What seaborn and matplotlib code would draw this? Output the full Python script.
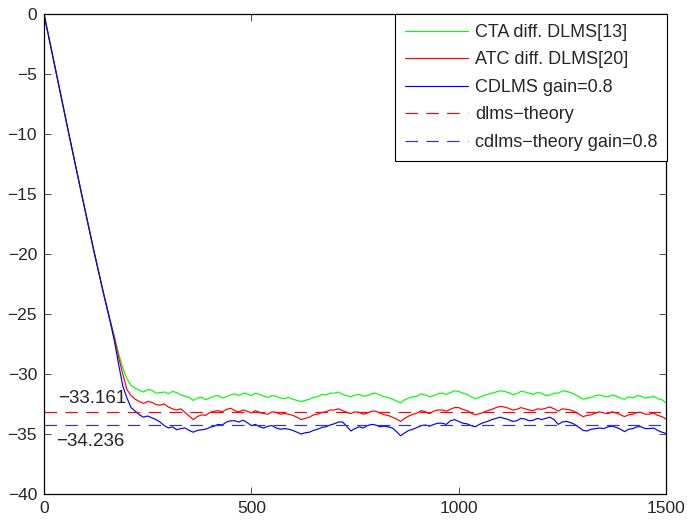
import numpy as np
import pandas as pd
import matplotlib
matplotlib.use("Agg")
import matplotlib.pyplot as plt
from matplotlib.lines import Line2D
import seaborn as sns

# Iteration grid shared by the three learning curves
iterations = [0, 30, 60, 90, 120, 145, 160, 170, 180, 190, 200, 210, 220, 230] + list(range(240, 1501, 10))

# Network MSD in dB
cta_msd = [0, -5.0, -10.0, -14.9, -19.7, -23.5, -25.6, -26.9, -28.3, -29.5, -30.4, -30.95, -31.2, -31.35,
           -31.5, -31.3, -31.35, -31.6, -31.55, -31.5, -31.65, -31.45, -31.55, -31.75,
           -31.85, -31.95, -32.2, -32.0, -31.95, -32.15, -32.0, -31.85, -31.8, -32.0,
           -31.9, -31.75, -31.65, -31.8, -31.6, -31.65, -31.8, -31.6, -31.7, -31.85,
           -31.95, -31.8, -31.85, -32.0, -32.05, -31.95, -32.1, -32.2, -32.3, -32.2,
           -32.1, -31.95, -31.9, -31.7, -31.75, -31.6, -31.6, -31.5, -31.7, -31.8,
           -31.9, -31.75, -31.7, -31.85, -31.8, -31.65, -31.6, -31.75, -31.9, -31.95,
           -32.1, -32.25, -32.4, -32.15, -32.0, -31.9, -31.85, -31.65, -31.75, -31.9,
           -31.8, -31.65, -31.6, -31.7, -31.55, -31.4, -31.45, -31.6, -31.7, -31.9,
           -32.05, -31.95, -31.8, -31.7, -31.6, -31.5, -31.4, -31.45, -31.55, -31.7,
           -31.65, -31.45, -31.5, -31.6, -31.7, -31.55, -31.6, -31.8, -31.75, -31.6,
           -31.6, -31.4, -31.45, -31.55, -31.7, -31.9, -32.1, -32.0, -31.95, -31.8,
           -31.75, -31.85, -31.9, -31.75, -31.85, -32.0, -32.1, -31.9, -32.0, -31.8,
           -31.85, -32.0, -31.95, -31.85, -32.05, -32.15, -32.4]

atc_msd = [0, -5.0, -10.0, -14.9, -19.7, -23.5, -25.6, -27.0, -28.6, -30.0, -31.3, -31.8, -32.1, -32.3,
           -32.45, -32.3, -32.35, -32.55, -32.6, -32.5, -32.75, -32.9, -33.0, -32.9,
           -33.2, -33.5, -33.8, -33.55, -33.4, -33.45, -33.2, -33.1, -33.05, -33.15,
           -32.95, -32.85, -33.05, -33.15, -33.0, -33.1, -33.25, -33.05, -33.2, -33.3,
           -33.35, -33.15, -33.2, -33.35, -33.3, -33.35, -33.45, -33.6, -33.8, -33.7,
           -33.6, -33.4, -33.35, -33.2, -33.15, -33.0, -33.0, -32.9, -33.05, -33.2,
           -33.3, -33.15, -33.2, -33.35, -33.25, -33.1, -33.1, -33.25, -33.4, -33.45,
           -33.6, -33.75, -33.95, -33.7, -33.5, -33.35, -33.25, -33.05, -33.15, -33.3,
           -33.1, -33.0, -33.0, -33.1, -32.95, -32.8, -32.8, -32.95, -33.05, -33.25,
           -33.4, -33.3, -33.2, -33.05, -32.95, -32.8, -32.7, -32.75, -32.85, -33.0,
           -32.95, -32.8, -32.9, -33.0, -33.05, -32.9, -32.95, -32.85, -32.75, -32.9,
           -33.1, -32.9, -32.95, -33.0, -33.15, -33.35, -33.55, -33.45, -33.4, -33.25,
           -33.15, -33.25, -33.3, -33.15, -33.25, -33.4, -33.55, -33.4, -33.35, -33.2,
           -33.2, -33.35, -33.35, -33.25, -33.45, -33.55, -33.75]

cdlms_msd = [0, -5.0, -10.0, -14.9, -19.7, -23.5, -25.7, -27.3, -29.2, -31.0, -32.0, -32.8, -33.1, -33.4,
             -33.6, -33.5, -33.65, -33.8, -34.0, -34.3, -34.5, -34.4, -34.65, -34.55,
             -34.5, -34.7, -34.85, -34.7, -34.65, -34.6, -34.45, -34.35, -34.2, -34.25,
             -34.0, -33.9, -33.9, -34.0, -33.85, -34.05, -34.3, -34.2, -34.4, -34.5,
             -34.35, -34.3, -34.5, -34.6, -34.55, -34.6, -34.7, -34.85, -35.0, -34.9,
             -34.85, -34.7, -34.6, -34.45, -34.4, -34.25, -34.15, -34.0, -34.0, -34.35,
             -34.75, -34.55, -34.4, -34.5, -34.3, -34.2, -34.25, -34.4, -34.35, -34.4,
             -34.5, -34.8, -35.15, -34.9, -34.7, -34.6, -34.45, -34.3, -34.25, -34.35,
             -34.2, -34.1, -34.1, -34.2, -33.9, -33.8, -33.95, -34.1, -34.15, -34.3,
             -34.4, -34.2, -34.05, -33.95, -33.8, -33.7, -33.6, -33.7, -33.8, -33.95,
             -33.9, -33.7, -33.75, -33.9, -33.85, -33.7, -33.8, -33.7, -33.6, -33.8,
             -34.2, -34.0, -33.95, -34.05, -34.2, -34.45, -34.7, -34.75, -34.6, -34.55,
             -34.5, -34.55, -34.4, -34.35, -34.45, -34.6, -34.8, -34.6, -34.55, -34.4,
             -34.4, -34.55, -34.55, -34.5, -34.7, -34.85, -34.95]

# Steady-state theory levels (dB)
dlms_theory = -33.161
cdlms_theory = -34.236

series_names = ["CTA diff. DLMS[13]", "ATC diff. DLMS[20]", "CDLMS gain=0.8"]
theory_names = ["dlms\u2212theory", "cdlms\u2212theory gain=0.8"]
series_colors = ["#00ff00", "#ff0000", "#0000ff"]
theory_colors = ["#ff0000", "#2e2eff"]

df = pd.concat([
    pd.DataFrame({"iteration": iterations, "msd": vals, "algorithm": name})
    for name, vals in zip(series_names, [cta_msd, atc_msd, cdlms_msd])
], ignore_index=True)

sns.set_style("ticks")
plt.rcParams["font.family"] = ["Liberation Sans", "DejaVu Sans"]
plt.rcParams["lines.scale_dashes"] = False

fig = plt.figure(figsize=(6.87, 5.23), dpi=100)
ax = fig.add_axes([44 / 687, 29 / 523, 622 / 687, 480 / 523])

sns.lineplot(data=df, x="iteration", y="msd", hue="algorithm",
             palette=dict(zip(series_names, series_colors)),
             hue_order=series_names, estimator=None, sort=False, linewidth=0.85,
             legend=False, ax=ax)

dash = (0, (9, 6))
ax.axhline(dlms_theory, color=theory_colors[0], linestyle=dash, linewidth=0.85)
ax.axhline(cdlms_theory, color=theory_colors[1], linestyle=dash, linewidth=0.85)

ax.text(34, -32.0, "\u221233.161", fontsize=13.5, ha="left", va="center")
ax.text(30, -35.65, "\u221234.236", fontsize=13.5, ha="left", va="center")

ax.set_xlim(0, 1500)
ax.set_ylim(-40, 0)
ax.set_xticks([0, 500, 1000, 1500])
ax.set_yticks(np.arange(-40, 1, 5))
ax.set_xlabel("")
ax.set_ylabel("")
ax.tick_params(direction="in", length=5, width=0.6, labelsize=12.5,
               top=True, right=True, pad=5, color="#333333")
for side in ax.spines.values():
    side.set_visible(True)
    side.set_linewidth(0.9)
    side.set_color("black")

handles = [Line2D([], [], color=c, linewidth=0.85) for c in series_colors] + \
          [Line2D([], [], color=c, linewidth=0.85, linestyle=dash) for c in theory_colors]
labels = series_names + theory_names
leg = ax.legend(handles, labels, loc="upper right", bbox_to_anchor=(1.002, 1.0),
                borderaxespad=0, fontsize=13, handlelength=3.5, handletextpad=0.35,
                labelspacing=0.58, borderpad=0.55, frameon=True, fancybox=False,
                framealpha=1, edgecolor="black")
leg.get_frame().set_linewidth(0.8)

fig.savefig("out.png", dpi=100)
